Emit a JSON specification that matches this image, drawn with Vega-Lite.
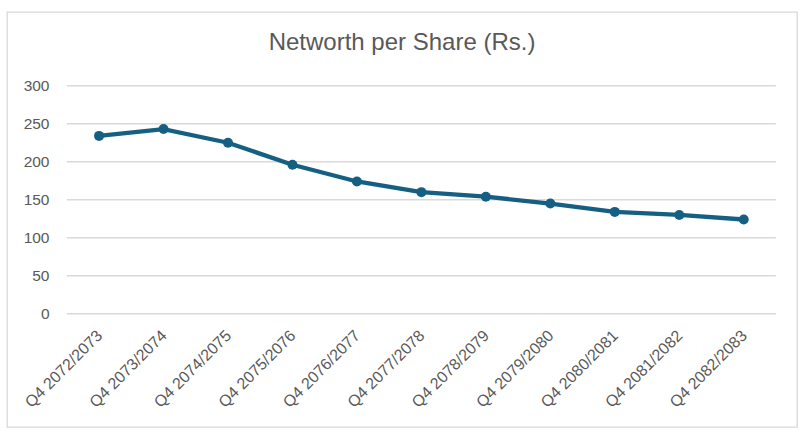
{
  "$schema": "https://vega.github.io/schema/vega-lite/v6.json",
  "background": "white",
  "autosize": "none",
  "padding": {"left": 7, "top": 12, "right": 11, "bottom": 6},
  "width": 790,
  "height": 415,
  "title": {
    "text": "Networth per Share (Rs.)",
    "frame": "group",
    "anchor": "middle",
    "baseline": "alphabetic",
    "offset": -62,
    "font": "Liberation Sans",
    "fontSize": 24,
    "fontWeight": "normal",
    "color": "#595959"
  },
  "data": {
    "values": [
      {"period": "Q4 2072/2073", "nwps": 234},
      {"period": "Q4 2073/2074", "nwps": 243},
      {"period": "Q4 2074/2075", "nwps": 225},
      {"period": "Q4 2075/2076", "nwps": 196},
      {"period": "Q4 2076/2077", "nwps": 174},
      {"period": "Q4 2077/2078", "nwps": 160},
      {"period": "Q4 2078/2079", "nwps": 154},
      {"period": "Q4 2079/2080", "nwps": 145},
      {"period": "Q4 2080/2081", "nwps": 134},
      {"period": "Q4 2081/2082", "nwps": 130},
      {"period": "Q4 2082/2083", "nwps": 124}
    ]
  },
  "encoding": {
    "x": {
      "field": "period",
      "type": "ordinal",
      "sort": null,
      "title": null,
      "scale": {
        "type": "band",
        "paddingInner": 0,
        "paddingOuter": 0.627,
        "align": 0.74,
        "domain": [
          "Q4 2072/2073", "Q4 2073/2074", "Q4 2074/2075", "Q4 2075/2076",
          "Q4 2076/2077", "Q4 2077/2078", "Q4 2078/2079", "Q4 2079/2080",
          "Q4 2080/2081", "Q4 2081/2082", "Q4 2082/2083"
        ]
      },
      "axis": {
        "offset": -113,
        "domain": false,
        "ticks": false,
        "grid": false,
        "labelAngle": -45,
        "labelPadding": 13,
        "labelOffset": -5,
        "labelFontSize": 16,
        "labelFont": "Liberation Sans",
        "labelColor": "#595959"
      }
    },
    "y": {
      "field": "nwps",
      "type": "quantitative",
      "title": null,
      "scale": {"domain": [-149, 397], "nice": false, "zero": false},
      "axis": {
        "offset": -59,
        "values": [0, 50, 100, 150, 200, 250, 300],
        "domain": false,
        "ticks": false,
        "grid": false,
        "labelPadding": 17,
        "labelFontSize": 15.5,
        "labelFont": "Liberation Sans",
        "labelColor": "#595959"
      }
    }
  },
  "layer": [
    {
      "data": {
        "values": [
          {"g": 0}, {"g": 50}, {"g": 100}, {"g": 150},
          {"g": 200}, {"g": 250}, {"g": 300}
        ]
      },
      "mark": {"type": "rule", "color": "#d9d9d9", "strokeWidth": 1.3, "xOffset": -32.2, "x2Offset": 32.2},
      "encoding": {
        "x": {"datum": "Q4 2072/2073", "type": "ordinal"},
        "x2": {"datum": "Q4 2082/2083"},
        "y": {"field": "g", "type": "quantitative"}
      }
    },
    {
      "mark": {"type": "line", "color": "#156082", "strokeWidth": 4.3},
      "encoding": {}
    },
    {
      "mark": {"type": "point", "filled": true, "opacity": 1, "color": "#156082", "size": 100},
      "encoding": {}
    }
  ],
  "config": {
    "view": {"stroke": "#d9d9d9", "strokeWidth": 1.3}
  }
}
